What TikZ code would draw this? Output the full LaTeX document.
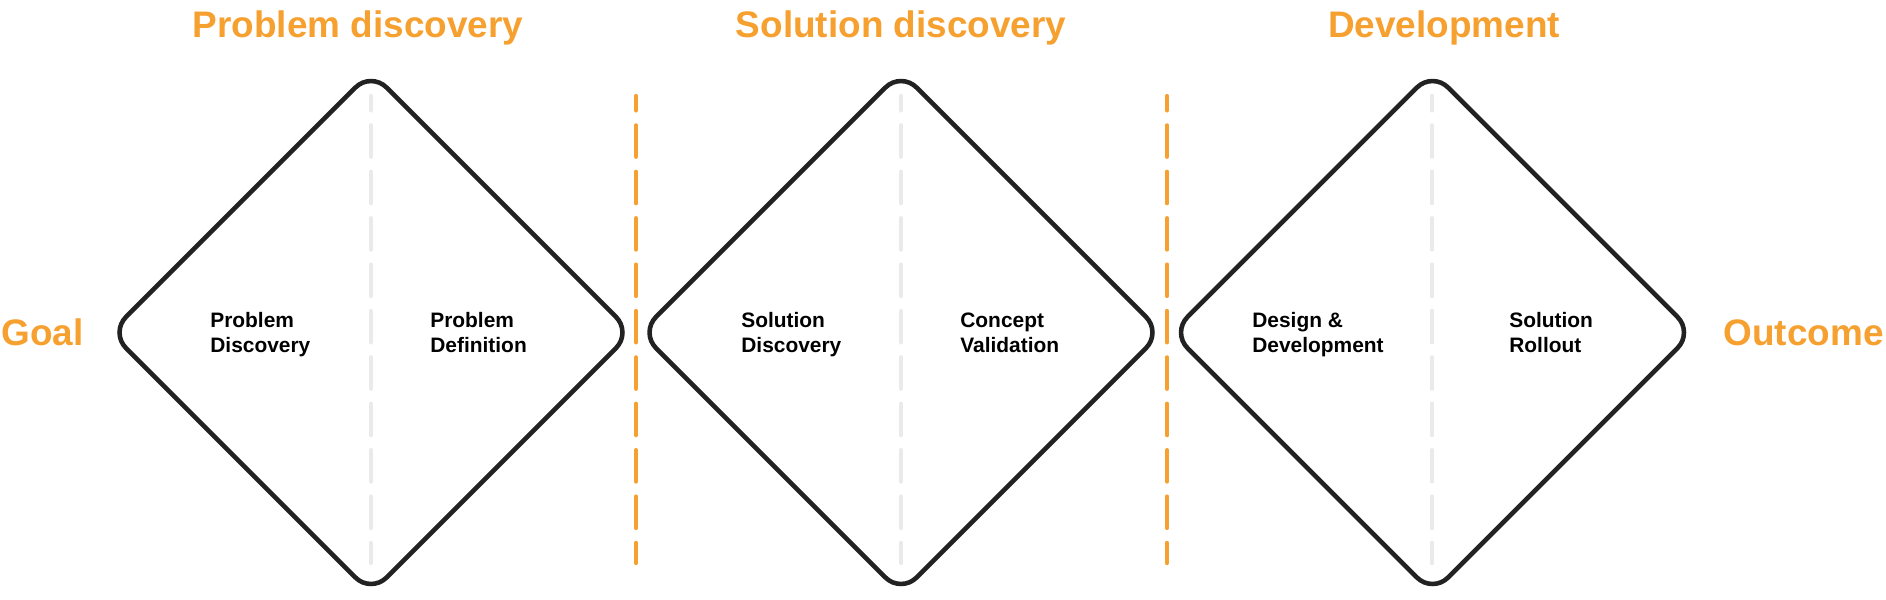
\documentclass[tikz,border=0pt]{standalone}
\usepackage{fontspec}
\setmainfont{Liberation Sans}
\usepackage{xcolor}
\definecolor{stageOrange}{RGB}{246, 160, 48}
\definecolor{edgeDark}{RGB}{34, 34, 34}
\definecolor{splitGray}{RGB}{234, 234, 234}
\usetikzlibrary{shapes.geometric}

\begin{document}
\begin{tikzpicture}[x=0.2mm, y=-0.2mm,
  phase/.style={diamond, draw=edgeDark, line width=2.6pt, rounded corners=12.5pt,
                minimum width=104.6mm, minimum height=104.6mm, inner sep=0pt},
  stage/.style={font=\fontsize{21}{25}\selectfont\bfseries, text=stageOrange,
                anchor=base, inner sep=0pt},
  lbl/.style={font=\fontsize{11.9}{14.2}\selectfont\bfseries, align=left,
              anchor=west, inner sep=0pt,
              execute at begin node=\strut, execute at end node=\strut},
  cut/.style={line width=2.4pt, line cap=round,
              dash pattern=on 17.9pt off 8.5pt, dash phase=9.7pt},
  sep/.style={cut, stageOrange},
  split/.style={cut, splitGray}
]
\useasboundingbox[fill=white] (0,0) rectangle (1886,599);

% headings and ends
\node[stage] (t1) at (358,37)  {Problem discovery};
\node[stage] (t2) at (901,37)  {Solution discovery};
\node[stage] (t3) at (1444,37) {Development};
\node[stage, anchor=base west] (goal) at (1,345)    {Goal};
\node[stage, anchor=base east] (out)  at (1884,345) {Outcome};

% the three diamonds
\node[phase] (d1) at (371,332.5)    {};
\node[phase] (d2) at (901,332.5)    {};
\node[phase] (d3) at (1432.5,332.5) {};

% split lines inside the diamonds
\coordinate (s1t) at (371,96);    \coordinate (s1b) at (371,563);
\coordinate (s2t) at (901,96);    \coordinate (s2b) at (901,563);
\coordinate (s3t) at (1432,96);   \coordinate (s3b) at (1432,563);
\draw[split] (s1t) -- (s1b);
\draw[split] (s2t) -- (s2b);
\draw[split] (s3t) -- (s3b);

% separators between stages
\coordinate (c1t) at (636,96);    \coordinate (c1b) at (636,563);
\coordinate (c2t) at (1167,96);   \coordinate (c2b) at (1167,563);
\draw[sep] (c1t) -- (c1b);
\draw[sep] (c2t) -- (c2b);

% labels
\node[lbl] (pd)  at (210,336)  {Problem\\Discovery};
\node[lbl] (pf)  at (430,336)  {Problem\\Definition};
\node[lbl] (sd)  at (741,336)  {Solution\\Discovery};
\node[lbl] (cv)  at (960,336)  {Concept\\Validation};
\node[lbl] (dd)  at (1252,336) {Design \&\\Development};
\node[lbl] (sr)  at (1509,336) {Solution\\Rollout};
\end{tikzpicture}
\end{document}
